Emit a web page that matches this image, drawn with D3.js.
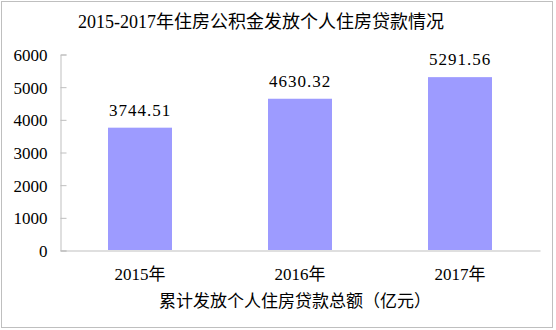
<!DOCTYPE html>
<html>
<head>
<meta charset="utf-8">
<script src="https://cdn.jsdelivr.net/npm/d3@7"></script>
<style>
  body { margin: 0; background: #fff; }
  text { font-family: "Liberation Serif", "Noto Sans CJK SC", serif; fill: #000; }
</style>
</head>
<body>
<div id="chart"></div>
<script>
let years = ['2015年', '2016年', '2017年']
let loans = [3744.51, 4630.32, 5291.56]
let yTicks = [0, 1000, 2000, 3000, 4000, 5000, 6000]
let title = '2015-2017年住房公积金发放个人住房贷款情况'
let xTitle = '累计发放个人住房贷款总额（亿元）'

let svg = d3.select('#chart')
    .append('svg')
    .attr('width', 556)
    .attr('height', 330)

// outer frame
svg.append('rect')
    .attr('x', 1.5)
    .attr('y', 1.5)
    .attr('width', 551)
    .attr('height', 326)
    .attr('fill', '#fff')
    .attr('stroke', '#bfbfbf')

let plotL = 60, plotR = 540, plotT = 54, plotB = 250

let xScale = d3.scaleBand()
    .domain(years)
    .range([plotL, plotR])
    .paddingInner(0.6)
    .paddingOuter(0.3)

let yScale = d3.scaleLinear()
    .domain([0, 6000])
    .range([plotB, plotT])

svg.append('text')
    .attr('x', 261)
    .attr('y', 28)
    .attr('text-anchor', 'middle')
    .style('font-size', '18px')
    .text(title)

// y axis
let yAxis = d3.axisLeft(yScale)
    .tickValues(yTicks)
    .tickFormat(d3.format('d'))
    .tickSize(-6)
    .tickPadding(13)
let gy = svg.append('g')
    .attr('transform', `translate(${plotL + 0.5},0.5)`)
    .call(yAxis)
gy.select('.domain').attr('stroke', '#bfbfbf')
gy.selectAll('.tick line').attr('stroke', '#bfbfbf')
gy.selectAll('.tick text').style('font-size', '17px').attr('dy', '0.35em')

// bars
svg.selectAll('.bar')
    .data(loans)
    .enter()
    .append('rect')
    .attr('class', 'bar')
    .attr('x', (d, i) => xScale(years[i]))
    .attr('width', xScale.bandwidth())
    .attr('y', d => yScale(d))
    .attr('height', d => plotB - yScale(d))
    .attr('fill', '#9d9bff')

svg.selectAll('.val')
    .data(loans)
    .enter()
    .append('text')
    .attr('class', 'val')
    .attr('x', (d, i) => xScale(years[i]) + xScale.bandwidth() / 2)
    .attr('y', d => yScale(d) - 12)
    .attr('text-anchor', 'middle')
    .style('font-size', '17px')
    .style('letter-spacing', '1px')
    .text(d => d.toFixed(2))

// x axis
let xAxis = d3.axisBottom(xScale).tickSize(0).tickPadding(17)
let gx = svg.append('g')
    .attr('transform', `translate(0,${plotB + 0.5})`)
    .call(xAxis)
gx.select('.domain').attr('stroke', '#bfbfbf')
gx.selectAll('.tick text').style('font-size', '17px')

svg.append('text')
    .attr('x', 295)
    .attr('y', 307)
    .attr('text-anchor', 'middle')
    .style('font-size', '17px')
    .text(xTitle)
</script>
</body>
</html>
